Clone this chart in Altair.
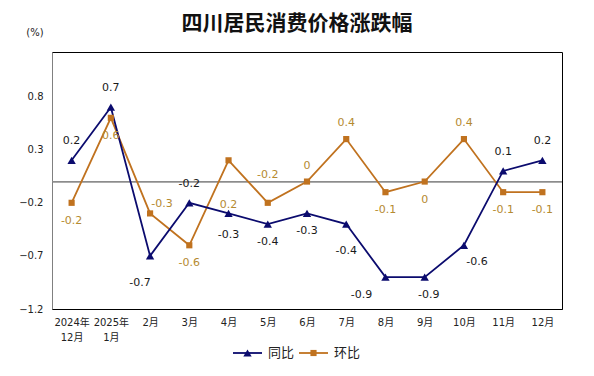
import altair as alt
import pandas as pd

categories = ["2024年12月", "2025年1月", "2月", "3月", "4月", "5月", "6月",
              "7月", "8月", "9月", "10月", "11月", "12月"]
tongbi = [0.2, 0.7, -0.7, -0.2, -0.3, -0.4, -0.3, -0.4, -0.9, -0.9, -0.6, 0.1, 0.2]
huanbi = [-0.2, 0.6, -0.3, -0.6, 0.2, -0.2, 0, 0.4, -0.1, 0, 0.4, -0.1, -0.1]
series_names = ["同比", "环比"]
y_ticks = [-1.2, -0.7, -0.2, 0.3, 0.8]

# label placement styles (pixel offsets), kept apart from the values
placement = {
    "above": (0, -19), "below": (0, 18), "below_far": (0, 27),
    "below_left": (-10, 27), "below_left2": (-24, 18), "below_right": (13, 17),
    "right_up": (12, -9), "below_very_far": (0, 45), "above_far": (0, -28),
    "above_near": (0, -16), "below_mid": (0, 22), "right": (4, 18),
}
tongbi_place = ["above", "above", "below_left", "above", "below_mid", "below",
                "below", "below_far", "below_left2", "right", "below_right",
                "above", "above"]
huanbi_place = ["below", "below", "right_up", "below", "below_very_far", "above_far",
                "above_near", "above_near", "below", "below", "above_near",
                "below", "below"]

NAVY = "#0b0b6e"
ORANGE = "#c0721f"
LABEL_GOLD = "#b58a30"
FONT = "DejaVu Sans, Noto Sans CJK SC"
CJK = "Noto Sans CJK SC"

rows = []
for s, vals, places in [("同比", tongbi, tongbi_place), ("环比", huanbi, huanbi_place)]:
    for c, v, p in zip(categories, vals, places):
        dx, dy = placement[p]
        rows.append({"category": c, "series": s, "value": v,
                     "label": f"{v:g}", "ldx": dx, "ldy": dy})
df = pd.DataFrame(rows)

x_enc = alt.X("category:N", sort=categories, title=None,
              scale=alt.Scale(type="point", padding=0.5),
              axis=alt.Axis(labelAngle=0, ticks=False, domainColor="#000000",
                            labelFont=FONT, labelFontSize=10, labelColor="#222222",
                            labelPadding=8, labelLineHeight=15,
                            labelExpr="indexof(datum.value,'年')>0 ? [slice(datum.value,0,indexof(datum.value,'年')+1), slice(datum.value,indexof(datum.value,'年')+1)] : datum.value"))
y_enc = alt.Y("value:Q", title=None,
              scale=alt.Scale(domain=[-1.2, 1.22], nice=False, zero=False),
              axis=alt.Axis(values=y_ticks, format=".1f", ticks=False, grid=False,
                            domainColor="#808080", labelFont=FONT, labelFontSize=10,
                            labelColor="#222222", labelPadding=9))

color_scale = alt.Scale(domain=series_names, range=[NAVY, ORANGE])
color_enc = alt.Color("series:N", scale=color_scale, legend=None)

base = alt.Chart(df).encode(x=x_enc, y=y_enc)

zero_rule = alt.Chart(df).mark_rule(color="#8c8c8c", strokeWidth=1).encode(y=alt.datum(0))

line_h = base.transform_filter(alt.datum.series == "环比").mark_line(strokeWidth=1.8).encode(color=color_enc)
line_t = base.transform_filter(alt.datum.series == "同比").mark_line(strokeWidth=1.8).encode(color=color_enc)
pts = base.mark_point(filled=True, opacity=1).encode(
    color=color_enc,
    shape=alt.Shape("series:N", scale=alt.Scale(domain=series_names, range=["triangle-up", "square"]), legend=None),
    size=alt.Size("series:N", scale=alt.Scale(domain=series_names, range=[70, 38]), legend=None),
)

txt_t = base.transform_filter(alt.datum.series == "同比").mark_text(
    font=FONT, fontSize=11, color="#1a1a1a", baseline="middle", align="center",
    dx={"expr": "datum.ldx"}, dy={"expr": "datum.ldy"}).encode(text="label:N")
txt_h = base.transform_filter(alt.datum.series == "环比").mark_text(
    font=FONT, fontSize=11, color=LABEL_GOLD, baseline="middle", align="center",
    dx={"expr": "datum.ldx"}, dy={"expr": "datum.ldy"}).encode(text="label:N")

one = alt.Data(values=[{"k": 1}])
title_txt = alt.Chart(one).mark_text(
    font=CJK, fontSize=21, fontWeight="bold", color="#111111", baseline="middle", align="center"
).encode(x=alt.value(245), y=alt.value(-28), text=alt.value("四川居民消费价格涨跌幅"))
unit_txt = alt.Chart(one).mark_text(
    font=FONT, fontSize=10, color="#222222", baseline="middle", align="center"
).encode(x=alt.value(-17), y=alt.value(-19), text=alt.value("(%)"))

# manual legend (line + marker + label), placed under the plot
LEG_Y = 301
leg_layers = []
for name, col, shp, sz, x0 in [("同比", NAVY, "triangle-up", 70, 181), ("环比", ORANGE, "square", 38, 247)]:
    leg_layers.append(alt.Chart(one).mark_rule(color=col, strokeWidth=1.8).encode(
        x=alt.value(x0), x2=alt.value(x0 + 29), y=alt.value(LEG_Y)))
    leg_layers.append(alt.Chart(one).mark_point(filled=True, opacity=1, color=col, shape=shp, size=sz).encode(
        x=alt.value(x0 + 14.5), y=alt.value(LEG_Y)))
    leg_layers.append(alt.Chart(one).mark_text(
        font=CJK, fontSize=13, color="#222222", baseline="middle", align="left").encode(
        x=alt.value(x0 + 35), y=alt.value(LEG_Y), text=alt.value(name)))

chart = alt.layer(zero_rule, line_h, line_t, pts, txt_h, txt_t, title_txt, unit_txt, *leg_layers).properties(
    width=510, height=257,
    autosize=alt.AutoSizeParams(type="none"),
    padding={"left": 52, "top": 52, "right": 32, "bottom": 67},
    background="#ffffff",
).configure_view(stroke="#000000", strokeWidth=1)

chart.save("out.html", embed_options={"renderer": "svg", "actions": False})
